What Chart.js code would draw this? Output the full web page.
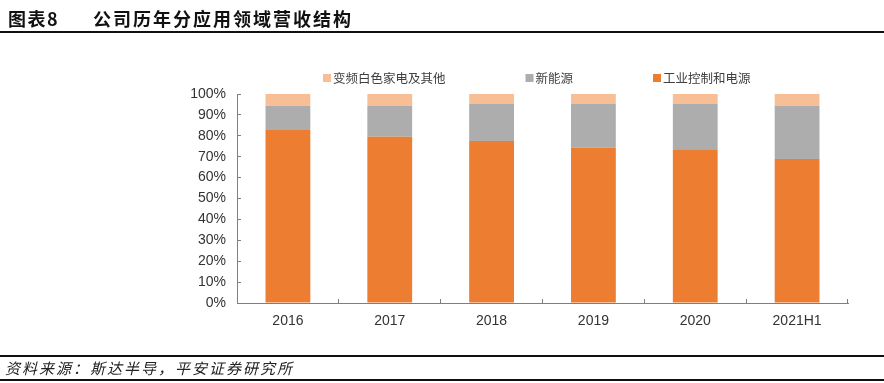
<!DOCTYPE html>
<html>
<head>
<meta charset="utf-8">
<script src="https://cdn.jsdelivr.net/npm/chart.js@4/dist/chart.umd.min.js"></script>
<style>
  html, body { margin:0; padding:0; background:#fff; width:884px; height:383px; overflow:hidden; }
  #wrap { position:absolute; left:0; top:0; width:884px; height:383px; }
  canvas { position:absolute; left:0; top:0; }
  .title { position:absolute; top:6px; left:8px; font-family:"Noto Sans CJK SC", sans-serif; font-weight:bold; font-size:18px; color:#111; letter-spacing:1.5px; white-space:nowrap; line-height:24px; }
  .title .t2 { position:absolute; left:85px; top:0; letter-spacing:2px; }
  .hline { position:absolute; left:0; width:884px; background:#111; }
  .foot { position:absolute; top:358px; left:5px; font-family:"Noto Sans CJK SC", sans-serif; font-style:italic; font-size:15px; color:#222; letter-spacing:2px; white-space:nowrap; line-height:20px; }
</style>
</head>
<body>
<div id="wrap">
  <canvas id="c" width="884" height="383"></canvas>
  <div class="title"><span>图表8</span><span class="t2">公司历年分应用领域营收结构</span></div>
  <div class="hline" style="top:31px;height:2px;"></div>
  <div class="hline" style="top:355px;height:1.5px;"></div>
  <div class="foot">资料来源：斯达半导，平安证券研究所</div>
  <div class="hline" style="top:379px;height:1.5px;"></div>
</div>
<script>
const categories = ["2016", "2017", "2018", "2019", "2020", "2021H1"];
const seriesNames = ["工业控制和电源", "新能源", "变频白色家电及其他"];
const industrial = [82.8, 79.6, 77.5, 74.3, 73.2, 68.9];
const newEnergy = [11.6, 14.7, 18.0, 20.9, 22.0, 25.5];
const appliances = [5.6, 5.7, 4.5, 4.8, 4.8, 5.6];
const yTicks = [0, 10, 20, 30, 40, 50, 60, 70, 80, 90, 100];
const colors = ["#ED7D31", "#AEADAD", "#F8BF96"];

const legendPlugin = {
  id: 'customLegend',
  afterDraw(chart) {
    const ctx = chart.ctx;
    const area = chart.chartArea;
    ctx.save();
    ctx.font = '12.5px "Noto Sans CJK SC", sans-serif';
    ctx.textBaseline = 'middle';
    ctx.fillStyle = '#404040';
    let x = area.left + 86;
    const y = 78;
    const order = [2, 1, 0];
    order.forEach((i) => {
      const ds = chart.data.datasets[i];
      ctx.fillStyle = ds.backgroundColor;
      ctx.fillRect(x, y - 4, 8, 8);
      ctx.fillStyle = '#404040';
      ctx.fillText(ds.label, x + 10, y);
      x += 10 + ctx.measureText(ds.label).width + 80;
    });
    ctx.restore();
  }
};

new Chart(document.getElementById('c'), {
  type: 'bar',
  data: {
    labels: categories,
    datasets: [
      { label: seriesNames[0], data: industrial, backgroundColor: colors[0] },
      { label: seriesNames[1], data: newEnergy, backgroundColor: colors[1] },
      { label: seriesNames[2], data: appliances, backgroundColor: colors[2] }
    ]
  },
  options: {
    responsive: false,
    animation: false,
    devicePixelRatio: 1,
    layout: { padding: { left: 0, right: 36, top: 94, bottom: 50 } },
    datasets: { bar: { categoryPercentage: 1, barPercentage: 0.44 } },
    plugins: { legend: { display: false }, tooltip: { enabled: false } },
    scales: {
      x: {
        stacked: true,
        border: { display: true, color: '#7f7f7f', width: 1 },
        grid: { display: true, drawOnChartArea: false, offset: true, tickLength: -4, color: '#7f7f7f' },
        ticks: { color: '#333', padding: 14, font: { family: '"Liberation Sans", Arial, sans-serif', size: 14 } },
        afterFit(s) { s.height = 30; }
      },
      y: {
        stacked: true,
        min: 0, max: 100,
        afterBuildTicks(s) { s.ticks = yTicks.map(v => ({ value: v })); },
        border: { display: true, color: '#7f7f7f', width: 1 },
        grid: { display: true, drawOnChartArea: false, tickLength: -4, color: '#7f7f7f' },
        ticks: { color: '#333', padding: 15, callback: v => v + '%', font: { family: '"Liberation Sans", Arial, sans-serif', size: 14 } },
        afterFit(s) { s.width = 237; }
      }
    }
  },
  plugins: [legendPlugin]
});
</script>
</body>
</html>
